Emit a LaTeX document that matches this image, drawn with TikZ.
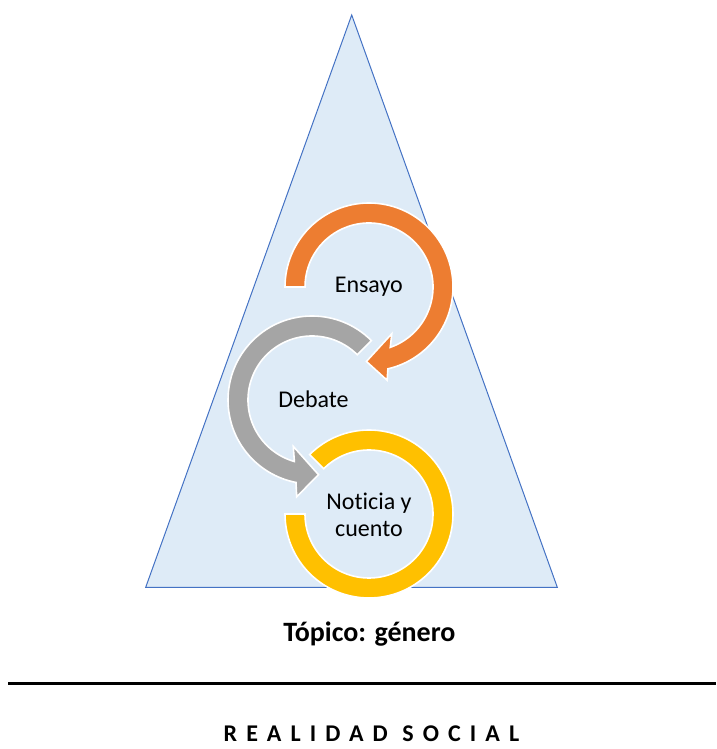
\documentclass[tikz,border=0pt]{standalone}
\usepackage{fontspec}
\setmainfont[Ligatures={NoCommon}]{Carlito}
\definecolor{triFill}{HTML}{DEEBF7}
\definecolor{triLine}{HTML}{4472C4}
\definecolor{arcOrange}{HTML}{ED7D31}
\definecolor{arcGray}{HTML}{A5A5A5}
\definecolor{arcGold}{HTML}{FFC000}
\begin{document}
\begin{tikzpicture}[x=1pt,y=1pt,
  ring/.style={draw=white,line width=1.6pt,line join=miter},
  label/.style={inner sep=0pt,font=\fontsize{24}{28}\selectfont,text=black},
  caption/.style={inner sep=0pt,font=\fontsize{28}{32}\selectfont\bfseries},
  base/.style={inner sep=0pt,font=\fontsize{24}{28}\selectfont\bfseries\addfontfeature{LetterSpace=38}}]
\useasboundingbox (0,0) rectangle (716,749);

% pyramid
\coordinate (apex) at (351.7,734);
\coordinate (bl) at (145.7,161.7);
\coordinate (br) at (557.3,161.7);
\draw[triLine,fill=triFill,line width=1pt,line join=miter] (apex) -- (br) -- (bl) -- cycle;

% centres of the three circular arrows
\coordinate (cO) at (369,462);
\coordinate (cG) at (312,349);
\coordinate (cY) at (369,235);

% gold ring (no head)
\begin{scope}[shift={(cY)}]
  \fill[arcGold,ring] (135:84) arc[start angle=135,end angle=-180,radius=84]
    -- (180:64) arc[start angle=-180,end angle=135,radius=64] -- cycle;
\end{scope}

% gray arrow
\begin{scope}[shift={(cG)}]
  \fill[arcGray,ring] (45:84) arc[start angle=45,end angle=259,radius=84]
    -- (261:98) -- (275:75) -- (248:50) -- (254:64)
    arc[start angle=254,end angle=45,radius=64] -- cycle;
\end{scope}

% orange arrow
\begin{scope}[shift={(cO)}]
  \fill[arcOrange,ring] (180:84) arc[start angle=180,end angle=-77,radius=84]
    -- (-79:95) -- (-92:74.5) -- (-64:52) -- (-70.6:64)
    arc[start angle=-70.6,end angle=180,radius=64] -- cycle;
\end{scope}

% labels
\node[label,anchor=base] (ensayo) at (368.8,456.3) {Ensayo};
\node[label,anchor=base] (debate) at (313.5,341) {Debate};
\node[label,anchor=base] (noticia) at (369,239) {Noticia y};
\node[label,anchor=base] (cuento) at (369,212.3) {cuento};

\node[caption,anchor=base] (topico) at (369.4,107.3) {Tópico: género};

\coordinate (ruleL) at (8,65);
\coordinate (ruleR) at (716,65);
\draw[line width=3pt] (ruleL) -- (ruleR);

\node[base,anchor=base] (realidad) at (371.5,7) {REALIDAD SOCIAL};
\end{tikzpicture}
\end{document}
